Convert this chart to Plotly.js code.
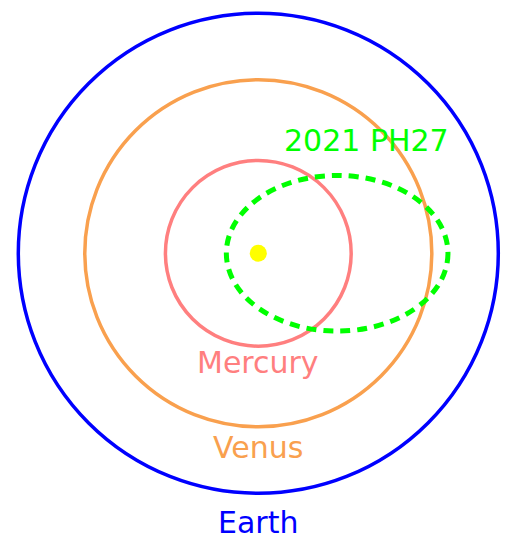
<!DOCTYPE html>
<html>
<head>
<meta charset="utf-8">
<script src="https://cdn.plot.ly/plotly-3.0.1.min.js"></script>
<style>html,body{margin:0;padding:0;background:#fff;}</style>
</head>
<body>
<div id="chart" style="width:505px;height:539px;"></div>
<script>
// ---- data ----
const bodies = ['Mercury', 'Venus', 'Earth', '2021 PH27'];
const semiMajorAU = [0.387, 0.723, 1.0, 0.4617];
const eccentricity = [0, 0, 0, 0.7116];
const sunPos = [0, 0];

// ---- styles ----
const colors = ['#ff7f7f', '#f9a04e', '#0000ff', '#00ff00'];
const widths = [3.5, 3.5, 3.5, 5];
const dashes = ['solid', 'solid', 'solid', '10px,7px'];
const labelPos = [[0, -0.455], [0, -0.808], [0, -1.12], [0.451, 0.47]];

const shapes = bodies.map((name, i) => {
  const a = semiMajorAU[i], e = eccentricity[i];
  const b = a * Math.sqrt(1 - e * e);
  const c = a * e;
  return {
    type: 'circle', xref: 'x', yref: 'y',
    x0: c - a, x1: c + a, y0: -b, y1: b,
    line: {color: colors[i], width: widths[i], dash: dashes[i]},
    fillcolor: 'rgba(0,0,0,0)'
  };
});

const annotations = bodies.map((name, i) => ({
  x: labelPos[i][0], y: labelPos[i][1], xref: 'x', yref: 'y',
  text: name, showarrow: false, xanchor: 'center', yanchor: 'middle',
  font: {family: 'DejaVu Sans', size: 30, color: colors[i]}
}));

const sun = {
  x: [sunPos[0]], y: [sunPos[1]], type: 'scatter', mode: 'markers',
  marker: {color: '#ffff00', size: 17, line: {width: 0}},
  hoverinfo: 'skip', showlegend: false
};

const pxPerAU = 240, cx = 258.3, cy = 253.3, W = 505, H = 539;
const layout = {
  width: W, height: H,
  margin: {l: 0, r: 0, t: 0, b: 0, pad: 0},
  paper_bgcolor: '#ffffff', plot_bgcolor: '#ffffff',
  showlegend: false,
  xaxis: {range: [-cx / pxPerAU, (W - cx) / pxPerAU], visible: false, showgrid: false, zeroline: false, fixedrange: true},
  yaxis: {range: [-(H - cy) / pxPerAU, cy / pxPerAU], visible: false, showgrid: false, zeroline: false, fixedrange: true},
  shapes: shapes,
  annotations: annotations
};

Plotly.newPlot('chart', [sun], layout, {displayModeBar: false, staticPlot: true});
</script>
</body>
</html>
